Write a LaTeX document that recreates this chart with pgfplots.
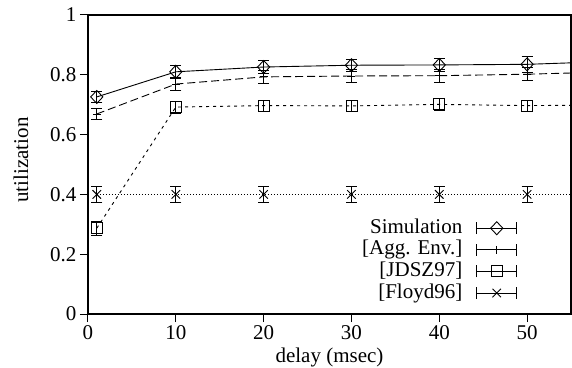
\documentclass[border=0pt]{standalone}
\usepackage{fontspec}
\setmainfont{Liberation Serif}
\usepackage{pgfplots}
\pgfplotsset{compat=1.18}
\pgfplotsset{errleg/.style={legend image code/.code={
  \draw[##1, solid] (0bp,0bp) -- (40bp,0bp);
  \draw[solid, line width=0.9bp] (0bp,-6bp) -- (0bp,6bp) (40bp,-6bp) -- (40bp,6bp);
  \draw[##1, solid] plot coordinates {(20bp,0bp)};
}}}
\begin{document}
\begin{tikzpicture}
\begin{axis}[
  scale only axis, width=483bp, height=299bp,
  at={(0,0)}, anchor=south west,
  xmin=0, xmax=55, ymin=0, ymax=1,
  xtick={0,10,20,30,40,50}, xticklabels={0,10,20,30,40,50},
  ytick={0,0.2,0.4,0.6,0.8,1}, yticklabels={0,0.2,0.4,0.6,0.8,1},
  font=\fontsize{21bp}{24bp}\selectfont,
  tick align=outside, xtick pos=bottom, ytick pos=left,
  major tick length=8bp,
  tick style={black, line width=1bp},
  axis line style={line width=1.2bp},
  xlabel={delay (msec)}, ylabel={utilization},
  xlabel style={at={(axis description cs:0.5,-0.147)}, anchor=center},
  ylabel style={at={(axis description cs:-0.1387,0.515)}, anchor=center, rotate=0},
  legend plot pos=right,
  legend style={draw=none, fill=none, at={(axis description cs:0.889,0.321)}, anchor=north east,
    inner sep=0pt, row sep=1.6bp, cells={anchor=east},
    nodes={inner sep=0pt, text height=15bp, text depth=5bp},
    /tikz/every odd column/.append style={column sep=14bp},
    font=\fontsize{21bp}{24bp}\selectfont},
  every axis plot/.append style={line width=0.9bp, black},
  error bars/error bar style={solid, line width=0.9bp},
  error bars/error mark options={rotate=90, mark size=5.5bp, solid, line width=0.9bp},
]
% Simulation
\addplot[solid, mark=diamond, mark size=6.5bp, mark options={solid, xscale=1.25}, errleg,
  error bars/.cd, y dir=both, y explicit]
  coordinates {(1,0.726)+-(0,0.018) (10,0.810)+-(0,0.02) (20,0.826)+-(0,0.022)
               (30,0.832)+-(0,0.02) (40,0.833)+-(0,0.022) (50,0.835)+-(0,0.028)};
\addlegendentry{Simulation}
% Agg. Env.
\addplot[dash pattern=on 8bp off 4bp, mark=+, mark size=4bp, mark options={solid}, errleg,
  error bars/.cd, y dir=both, y explicit]
  coordinates {(1,0.669)+-(0,0.017) (10,0.769)+-(0,0.02) (20,0.793)+-(0,0.022)
               (30,0.796)+-(0,0.022) (40,0.797)+-(0,0.022) (50,0.802)+-(0,0.022)};
\addlegendentry{[Agg. Env.]}
% JDSZ97
\addplot[dash pattern=on 3bp off 4bp, mark=square, mark size=5.5bp, mark options={solid}, errleg,
  error bars/.cd, y dir=both, y explicit]
  coordinates {(1,0.287)+-(0,0.023) (10,0.692)+-(0,0.02) (20,0.697)+-(0,0.018)
               (30,0.696)+-(0,0.018) (40,0.701)+-(0,0.02) (50,0.697)+-(0,0.018)};
\addlegendentry{[JDSZ97]}
% Floyd96
\addplot[dash pattern=on 1bp off 2bp, mark=x, mark size=6bp, mark options={solid}, errleg,
  error bars/.cd, y dir=both, y explicit]
  coordinates {(1,0.40)+-(0,0.027) (10,0.40)+-(0,0.027) (20,0.40)+-(0,0.027)
               (30,0.40)+-(0,0.027) (40,0.40)+-(0,0.027) (50,0.40)+-(0,0.027)};
\addlegendentry{[Floyd96]}
% line continuations
\addplot[solid, forget plot] coordinates {(50,0.835) (55,0.840)};
\addplot[dash pattern=on 8bp off 4bp, forget plot] coordinates {(50,0.802) (55,0.806)};
\addplot[dash pattern=on 3bp off 4bp, forget plot] coordinates {(50,0.697) (55,0.698)};
\addplot[dash pattern=on 1bp off 2bp, forget plot] coordinates {(50,0.40) (55,0.40)};
\end{axis}
\pgfresetboundingbox
\path (-88bp,-54bp) rectangle (484bp,314bp);
\end{tikzpicture}
\end{document}
